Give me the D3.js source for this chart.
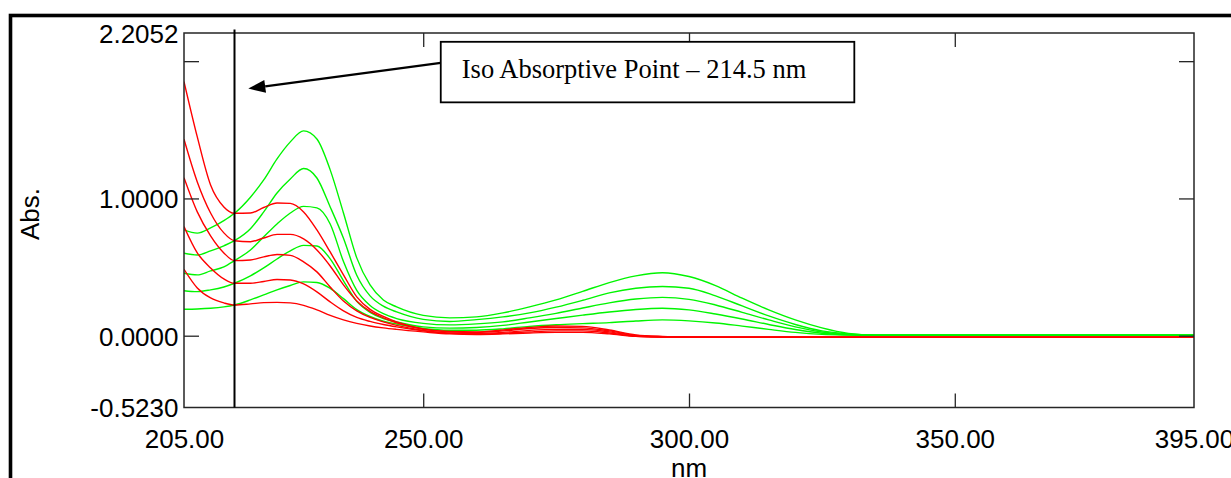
<!DOCTYPE html>
<html>
<head>
<meta charset="utf-8">
<script src="https://cdn.jsdelivr.net/npm/d3@7"></script>
<style>
  html, body { margin: 0; padding: 0; background: #fff; overflow: hidden; }
  svg { display: block; }
</style>
</head>
<body>
<svg id="chart" width="1231" height="478"></svg>
<script>
// Wavelength grid (nm) shared by all spectra
const wavelengths = [205, 207.5, 210, 212.5, 214.5, 217.5, 220, 222.5, 225, 227.5, 230, 232.5, 235, 237.5, 240, 242.5, 245, 250, 255, 260, 265, 270, 275, 280, 285, 290, 295, 300, 305, 310, 315, 320, 325, 330, 335, 340, 350, 395];

// Spectra drawn in green
const green1 = [0.771, 0.747, 0.785, 0.838, 0.892, 1.009, 1.135, 1.288, 1.412, 1.492, 1.433, 1.208, 0.894, 0.567, 0.370, 0.260, 0.210, 0.148, 0.130, 0.137, 0.166, 0.210, 0.261, 0.323, 0.387, 0.436, 0.459, 0.431, 0.365, 0.273, 0.188, 0.115, 0.057, 0.017, 0.004, 0.003, 0.003, 0.003];
const green2 = [0.601, 0.588, 0.618, 0.655, 0.692, 0.779, 0.902, 1.040, 1.142, 1.218, 1.149, 0.938, 0.710, 0.440, 0.290, 0.215, 0.173, 0.119, 0.104, 0.117, 0.137, 0.166, 0.208, 0.258, 0.312, 0.346, 0.358, 0.346, 0.290, 0.217, 0.144, 0.082, 0.035, 0.013, 0.004, 0.003, 0.003, 0.003];
const green3 = [0.455, 0.443, 0.472, 0.501, 0.547, 0.625, 0.720, 0.814, 0.894, 0.942, 0.931, 0.814, 0.540, 0.330, 0.220, 0.160, 0.125, 0.090, 0.079, 0.086, 0.101, 0.130, 0.163, 0.202, 0.239, 0.267, 0.279, 0.265, 0.224, 0.170, 0.115, 0.064, 0.027, 0.009, 0.004, 0.003, 0.003, 0.003];
const green4 = [0.328, 0.321, 0.334, 0.355, 0.382, 0.436, 0.494, 0.559, 0.618, 0.658, 0.654, 0.560, 0.400, 0.250, 0.170, 0.125, 0.100, 0.064, 0.055, 0.060, 0.075, 0.100, 0.125, 0.150, 0.173, 0.191, 0.200, 0.188, 0.158, 0.122, 0.082, 0.045, 0.018, 0.006, 0.004, 0.003, 0.003, 0.003];
const green5 = [0.193, 0.195, 0.200, 0.210, 0.224, 0.261, 0.297, 0.334, 0.366, 0.392, 0.388, 0.345, 0.270, 0.190, 0.140, 0.105, 0.085, 0.053, 0.040, 0.040, 0.050, 0.068, 0.080, 0.088, 0.095, 0.107, 0.115, 0.108, 0.093, 0.070, 0.046, 0.024, 0.010, 0.005, 0.003, 0.003, 0.003, 0.003];

// Spectra drawn in red
const red1 = [1.851, 1.448, 1.098, 0.938, 0.892, 0.894, 0.934, 0.967, 0.964, 0.902, 0.771, 0.610, 0.443, 0.283, 0.192, 0.141, 0.101, 0.050, 0.031, 0.028, 0.042, 0.060, 0.071, 0.068, 0.042, 0.006, -0.005, -0.009, -0.010, -0.010, -0.010, -0.010, -0.010, -0.010, -0.010, -0.010, -0.010, -0.010];
const red2 = [1.431, 1.120, 0.894, 0.749, 0.692, 0.685, 0.712, 0.738, 0.738, 0.705, 0.625, 0.508, 0.370, 0.253, 0.177, 0.130, 0.093, 0.046, 0.028, 0.024, 0.035, 0.053, 0.060, 0.057, 0.035, 0.002, -0.007, -0.010, -0.010, -0.010, -0.010, -0.010, -0.010, -0.010, -0.010, -0.010, -0.010, -0.010];
const red3 = [1.151, 0.902, 0.727, 0.603, 0.547, 0.552, 0.574, 0.592, 0.585, 0.538, 0.465, 0.355, 0.253, 0.181, 0.133, 0.101, 0.075, 0.039, 0.020, 0.017, 0.024, 0.039, 0.046, 0.046, 0.028, -0.001, -0.009, -0.010, -0.010, -0.010, -0.010, -0.010, -0.010, -0.010, -0.010, -0.010, -0.010, -0.010];
const red4 = [0.795, 0.603, 0.494, 0.414, 0.382, 0.382, 0.395, 0.410, 0.406, 0.377, 0.319, 0.246, 0.181, 0.133, 0.104, 0.082, 0.064, 0.035, 0.017, 0.013, 0.017, 0.028, 0.035, 0.035, 0.020, -0.004, -0.009, -0.010, -0.010, -0.010, -0.010, -0.010, -0.010, -0.010, -0.010, -0.010, -0.010, -0.010];
const red5 = [0.484, 0.348, 0.275, 0.239, 0.224, 0.232, 0.241, 0.243, 0.239, 0.221, 0.188, 0.148, 0.115, 0.090, 0.071, 0.057, 0.046, 0.028, 0.013, 0.009, 0.013, 0.020, 0.024, 0.024, 0.013, -0.005, -0.009, -0.010, -0.010, -0.010, -0.010, -0.010, -0.010, -0.010, -0.010, -0.010, -0.010, -0.010];

const greenSeries = [green1, green2, green3, green4, green5];
const redSeries = [red1, red2, red3, red4, red5];

// Axis ranges and labels
const xDomain = [205, 395];
const yDomain = [-0.5230, 2.2052];
const xTickValues = [205, 250, 300, 350, 395];
const xTickLabels = ["205.00", "250.00", "300.00", "350.00", "395.00"];
const xInnerTicks = [250, 300, 350];
const yLabelValues = [2.2052, 1.0, 0.0, -0.5230];
const yTickLabels = ["2.2052", "1.0000", "0.0000", "-0.5230"];
const yInnerTicks = [2, 1, 0];
const xTitle = "nm";
const yTitle = "Abs.";

// Isosbestic point annotation
const isoWavelength = 214.5;
const isoLabel = "Iso Absorptive Point \u2013 214.5 nm";

const svg = d3.select("#chart");
const W = 1231, H = 478;
const plot = { left: 184, right: 1194, top: 33, bottom: 407.5 };

svg.append("rect").attr("width", W).attr("height", H).attr("fill", "#fff");

// Heavy outer frame (runs past the window on the right and bottom)
svg.append("rect")
  .attr("x", 10.5).attr("y", 15.5)
  .attr("width", 1400).attr("height", 700)
  .attr("fill", "none").attr("stroke", "#000").attr("stroke-width", 3.6);

const x = d3.scaleLinear().domain(xDomain).range([plot.left, plot.right]);
const y = d3.scaleLinear().domain(yDomain).range([plot.bottom, plot.top]);

const sansFont = "'Liberation Sans', Arial, Helvetica, sans-serif";
const serifFont = "'Liberation Serif', 'Times New Roman', Times, serif";
const axisColor = "#262626";

// Clip spectra to the plotting area
svg.append("clipPath").attr("id", "plotClip")
  .append("rect")
  .attr("x", plot.left).attr("y", plot.top)
  .attr("width", plot.right - plot.left).attr("height", plot.bottom - plot.top);

const line = d3.line()
  .x((d, i) => x(wavelengths[i]))
  .y(d => y(d))
  .curve(d3.curveMonotoneX);

const spectra = svg.append("g").attr("clip-path", "url(#plotClip)");
spectra.selectAll("path.green")
  .data(greenSeries).join("path")
  .attr("class", "green")
  .attr("d", line)
  .attr("fill", "none").attr("stroke", "#00f500").attr("stroke-width", 1.4);
spectra.selectAll("path.red")
  .data(redSeries).join("path")
  .attr("class", "red")
  .attr("d", line)
  .attr("fill", "none").attr("stroke", "#ff0000").attr("stroke-width", 1.4);

// Inner tick marks on all four sides
function styleTicks(g) {
  g.select(".domain").remove();
  g.selectAll(".tick line").attr("stroke", axisColor).attr("stroke-width", 1.3);
}
svg.append("g").attr("transform", `translate(${plot.left},0)`)
  .call(d3.axisLeft(y).tickValues(yInnerTicks).tickSize(-15).tickFormat(""))
  .call(styleTicks);
svg.append("g").attr("transform", `translate(${plot.right},0)`)
  .call(d3.axisRight(y).tickValues(yInnerTicks).tickSize(-15).tickFormat(""))
  .call(styleTicks);
svg.append("g").attr("transform", `translate(0,${plot.bottom})`)
  .call(d3.axisBottom(x).tickValues(xInnerTicks).tickSize(-14).tickFormat(""))
  .call(styleTicks);
svg.append("g").attr("transform", `translate(0,${plot.top})`)
  .call(d3.axisTop(x).tickValues(xInnerTicks).tickSize(-14).tickFormat(""))
  .call(styleTicks);

// Tick labels
const yLabels = svg.append("g").attr("transform", `translate(${plot.left},0)`)
  .call(d3.axisLeft(y).tickValues(yLabelValues).tickSize(0).tickPadding(5.5)
    .tickFormat((d, i) => yTickLabels[i]));
yLabels.select(".domain").remove();
yLabels.selectAll("text")
  .attr("font-family", sansFont).attr("font-size", 26).attr("fill", "#000")
  .attr("dy", "0.36em");

const xLabels = svg.append("g").attr("transform", `translate(0,${plot.bottom})`)
  .call(d3.axisBottom(x).tickValues(xTickValues).tickSize(0).tickPadding(22)
    .tickFormat((d, i) => xTickLabels[i]));
xLabels.select(".domain").remove();
xLabels.selectAll("text")
  .attr("font-family", sansFont).attr("font-size", 26).attr("fill", "#000");

// Plot frame
svg.append("rect")
  .attr("x", plot.left).attr("y", plot.top)
  .attr("width", plot.right - plot.left).attr("height", plot.bottom - plot.top)
  .attr("fill", "none").attr("stroke", axisColor).attr("stroke-width", 1.5);

// Axis titles
svg.append("text")
  .attr("x", (plot.left + plot.right) / 2).attr("y", 477)
  .attr("text-anchor", "middle")
  .attr("font-family", sansFont).attr("font-size", 26).attr("fill", "#000")
  .text(xTitle);
svg.append("text")
  .attr("transform", "translate(38.5,214) rotate(-90)")
  .attr("text-anchor", "middle")
  .attr("font-family", sansFont).attr("font-size", 26).attr("fill", "#000")
  .text(yTitle);

// Vertical marker at the isosbestic wavelength
svg.append("line")
  .attr("x1", x(isoWavelength)).attr("x2", x(isoWavelength))
  .attr("y1", plot.top - 3.5).attr("y2", plot.bottom)
  .attr("stroke", "#000").attr("stroke-width", 2);

// Callout box with arrow pointing at the marker
const box = { x0: 253.3, x1: 331.1, y0: 2.141, y1: 1.70 };
const boxX = x(box.x0), boxY = y(box.y0);
const boxW = x(box.x1) - x(box.x0), boxH = y(box.y1) - y(box.y0);

const tip = { nm: isoWavelength + 2.6, abs: 1.80 };
const tipX = x(tip.nm), tipY = y(tip.abs);
const startX = boxX, startY = boxY + 21;

const ang = Math.atan2(startY - tipY, startX - tipX);
const headLen = 17, headHalf = 6.5;
const bx = tipX + headLen * Math.cos(ang), by = tipY + headLen * Math.sin(ang);
svg.append("line")
  .attr("x1", startX).attr("y1", startY)
  .attr("x2", bx).attr("y2", by)
  .attr("stroke", "#000").attr("stroke-width", 2.2);
svg.append("path")
  .attr("d", d3.line()([
    [tipX, tipY],
    [bx + headHalf * Math.sin(ang), by - headHalf * Math.cos(ang)],
    [bx - headHalf * Math.sin(ang), by + headHalf * Math.cos(ang)]
  ]) + "Z")
  .attr("fill", "#000");

svg.append("rect")
  .attr("x", boxX).attr("y", boxY).attr("width", boxW).attr("height", boxH)
  .attr("fill", "#fff").attr("stroke", "#000").attr("stroke-width", 1.8);
svg.append("text")
  .attr("x", boxX + 21).attr("y", boxY + 36)
  .attr("font-family", serifFont).attr("font-size", 26.5).attr("fill", "#000")
  .text(isoLabel);
</script>
</body>
</html>
